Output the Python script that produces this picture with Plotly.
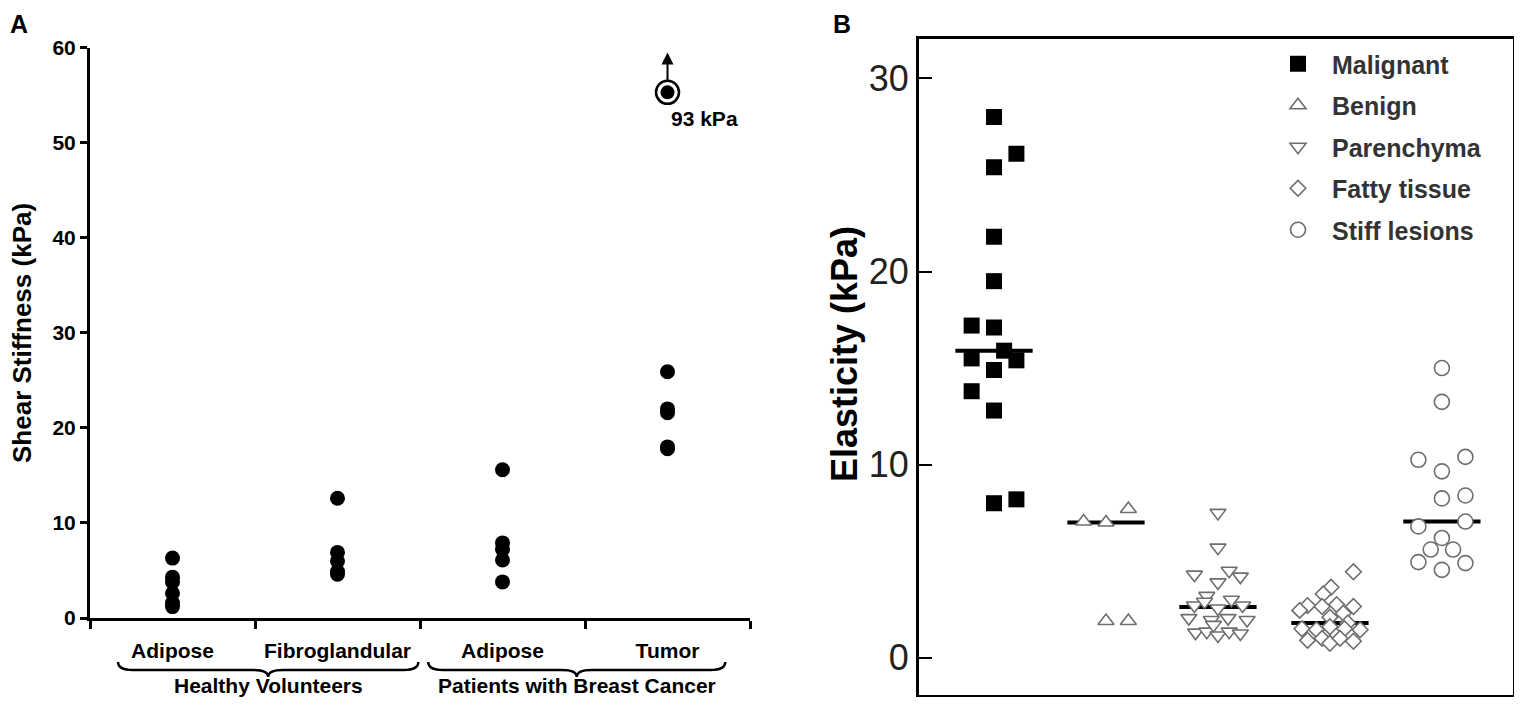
import numpy as np
import plotly.graph_objects as go

# target picture is 1522x726; page has an 8px body margin, keep figure short
# enough that the page never scrolls
PAGE_W, PAGE_H = 1522, 726
OFF = 8
FW, FH = PAGE_W - 2 * OFF, 689

# ---- panel A: shear stiffness (kPa) ----
a_categories = ["Adipose", "Fibroglandular", "Adipose", "Tumor"]
a_groups = ["Healthy Volunteers", "Patients with Breast Cancer"]
healthy_adipose = [6.3, 4.3, 3.8, 2.6, 1.6, 1.2]
healthy_fibro = [12.6, 6.9, 6.0, 4.9, 4.6]
patient_adipose = [15.6, 7.9, 7.2, 6.1, 3.8]
patient_tumor = [25.9, 22.0, 21.6, 18.0, 17.8]
tumor_outlier_kpa = 93
tumor_outlier_shown = 55.3   # drawn at top of the axis, off-scale value
a_yticks = [0, 10, 20, 30, 40, 50, 60]

# ---- panel B: elasticity (kPa) ----
b_names = ["Malignant", "Benign", "Parenchyma", "Fatty tissue", "Stiff lesions"]
malignant_x = [1.0, 1.2, 1.0, 1.0, 1.0, 0.8, 1.0, 0.8, 1.09, 1.2, 1.0, 0.8, 1.0, 1.0, 1.2]
malignant_y = [28.0, 26.1, 25.4, 21.8, 19.5, 17.2, 17.1, 15.5, 15.9, 15.4, 14.9, 13.8, 12.8, 8.0, 8.2]
benign_x = [1.8, 2.0, 2.2, 2.0, 2.2]
benign_y = [7.05, 7.0, 7.7, 1.9, 1.9]
parenchyma_x = [3.0, 3.0, 2.79, 3.1, 3.2, 3.0, 2.9, 2.79, 3.12, 3.22, 3.0, 2.88,
                2.74, 2.94, 3.09, 3.26, 2.8, 2.9, 3.0, 3.1, 3.2, 2.96]
parenchyma_y = [7.5, 5.7, 4.3, 4.5, 4.2, 3.9, 3.2, 2.7, 3.0, 2.7, 2.55, 2.9,
                2.05, 1.95, 2.05, 1.95, 1.3, 1.35, 1.15, 1.35, 1.25, 1.7]
fatty_x = [4.21, 4.01, 3.94, 3.8, 3.93, 4.06, 4.21, 3.73, 4.0, 4.12, 4.16,
           3.75, 3.88, 4.0, 4.13, 4.27, 3.8, 3.93, 4.0, 4.09, 4.21]
fatty_y = [4.45, 3.65, 3.3, 2.7, 2.65, 2.75, 2.65, 2.45, 2.1, 2.3, 1.8,
           1.5, 1.45, 1.6, 1.5, 1.45, 0.9, 1.0, 0.75, 1.0, 0.85]
stiff_x = [5.0, 5.0, 4.79, 5.21, 5.0, 5.0, 5.21, 4.79, 5.21, 5.0, 4.9, 5.1, 4.79, 5.21, 5.0]
stiff_y = [15.0, 13.25, 10.25, 10.4, 9.65, 8.25, 8.4, 6.8, 7.05, 6.2, 5.6, 5.6, 4.95, 4.9, 4.55]
b_yticks = [0, 10, 20, 30]

FONT = "Liberation Sans, Arial, sans-serif"
GREY = "#6e6e6e"


# picture pixel -> paper fraction
def px_x(p):
    return (p - OFF) / FW


def px_y(p):
    return 1 - (p - OFF) / FH


fig = go.Figure()

# Panel A --------------------------------------
for i, vals in enumerate([healthy_adipose, healthy_fibro, patient_adipose, patient_tumor]):
    fig.add_trace(go.Scatter(x=[i + 1] * len(vals), y=vals, mode="markers",
                             marker=dict(color="black", size=15),
                             showlegend=False, xaxis="x", yaxis="y"))

fig.add_trace(go.Scatter(x=[4], y=[tumor_outlier_shown], mode="markers",
                         marker=dict(symbol="circle-open", size=23, color="black",
                                     line=dict(width=2.5)),
                         showlegend=False, xaxis="x", yaxis="y"))
fig.add_trace(go.Scatter(x=[4], y=[tumor_outlier_shown], mode="markers",
                         marker=dict(color="black", size=14),
                         showlegend=False, xaxis="x", yaxis="y"))

# Panel B --------------------------------------
b_data = [(malignant_x, malignant_y), (benign_x, benign_y), (parenchyma_x, parenchyma_y),
          (fatty_x, fatty_y), (stiff_x, stiff_y)]
b_symbols = ["square", "triangle-up", "triangle-down", "diamond", "circle"]
b_sizes = [16, 14, 14, 12, 15]

# median lines
for k, (xs, ys) in enumerate(b_data):
    med = float(np.median(ys))
    fig.add_trace(go.Scatter(x=[k + 1 - 0.345, k + 1 + 0.345], y=[med, med], mode="lines",
                             line=dict(color="black", width=4),
                             showlegend=False, xaxis="x2", yaxis="y2"))

for k, (xs, ys) in enumerate(b_data):
    if k == 0:
        mk = dict(symbol="square", size=b_sizes[k], color="black")
    else:
        mk = dict(symbol=b_symbols[k], size=b_sizes[k], color="white",
                  line=dict(color=GREY, width=1.6))
    fig.add_trace(go.Scatter(x=xs, y=ys, mode="markers", name=b_names[k], marker=mk,
                             legendgroup=b_names[k], xaxis="x2", yaxis="y2"))


# braces under panel A
def brace(x0, x1, xm):
    r = 0.09
    yt, ym, yb = px_y(662), px_y(670), px_y(677)
    return (f"M {x0},{yt} Q {x0},{ym} {x0 + r},{ym} L {xm - r},{ym} "
            f"Q {xm},{ym} {xm},{yb} Q {xm},{ym} {xm + r},{ym} L {x1 - r},{ym} "
            f"Q {x1},{ym} {x1},{yt}")


brace_spans = [(0.67, 2.49, 1.58), (2.55, 4.35, 3.45)]
shapes = []
for x0, x1, xm in brace_spans:
    shapes.append(dict(type="path", path=brace(x0, x1, xm), xref="x", yref="paper",
                       line=dict(color="black", width=2.5)))

bold = dict(family=FONT, size=21, color="black", weight="bold")
mid = dict(xanchor="center", yanchor="middle", showarrow=False)
annotations = [
    dict(text="A", x=px_x(19), y=px_y(24), xref="paper", yref="paper", **mid,
         font=dict(family=FONT, size=25, color="black", weight="bold")),
    dict(text="B", x=px_x(842), y=px_y(24), xref="paper", yref="paper", **mid,
         font=dict(family=FONT, size=25, color="black", weight="bold")),
    dict(text="Shear Stiffness (kPa)", x=px_x(22), y=px_y(333), xref="paper", yref="paper",
         textangle=-90, **mid,
         font=dict(family=FONT, size=26, color="black", weight="bold")),
    dict(text="Elasticity (kPa)", x=px_x(845), y=px_y(354), xref="paper", yref="paper",
         textangle=-90, **mid,
         font=dict(family=FONT, size=36, color="black", weight="bold")),
    dict(text=str(tumor_outlier_kpa) + " kPa", x=4, y=tumor_outlier_shown, xref="x", yref="y",
         xshift=37, yshift=-26, **mid, font=bold),
    dict(text="", x=4, y=59.5, ax=4, ay=56.4, xref="x", yref="y", axref="x", ayref="y",
         showarrow=True, arrowhead=2, arrowsize=1.2, arrowwidth=2, arrowcolor="black"),
]
for (x0, x1, xm), g in zip(brace_spans, a_groups):
    annotations.append(dict(text=g, x=xm, y=px_y(685), xref="x", yref="paper",
                            **mid, font=bold))

# panel B y scale: 0 at 657.7 px, 10 kPa per 193.1 px
b_zero_px, b_px_per_unit = 657.7, 19.31
b_top_px, b_bottom_px = 39.3, 694.5

fig.update_layout(
    template="none",
    width=FW, height=FH,
    margin=dict(l=0, r=0, t=0, b=0),
    paper_bgcolor="white", plot_bgcolor="white",
    font=dict(family=FONT, color="black"),
    xaxis=dict(domain=[px_x(90), px_x(750)], range=[0.5, 4.5], showline=True,
               linewidth=3, linecolor="black", tickvals=[1, 2, 3, 4], ticktext=a_categories,
               ticks="", tickfont=bold, ticklabelstandoff=12, showgrid=False, zeroline=False,
               minor=dict(tickvals=[0.5, 1.5, 2.5, 3.5, 4.5], ticks="outside", ticklen=8,
                          tickwidth=3, tickcolor="black", showgrid=False)),
    yaxis=dict(domain=[px_y(618), px_y(47.7)], range=[0, 60], showline=True, linewidth=3,
               linecolor="black", ticks="outside", ticklen=7, tickwidth=3, tickcolor="black",
               tickvals=a_yticks, tickfont=bold, showgrid=False, zeroline=False),
    xaxis2=dict(domain=[px_x(919), px_x(1513)], range=[0.33, 5.635], anchor="y2",
                showline=True, mirror=True, linewidth=3, linecolor="black",
                showticklabels=False, ticks="", showgrid=False, zeroline=False),
    yaxis2=dict(domain=[px_y(b_bottom_px), px_y(b_top_px)],
                range=[(b_zero_px - b_bottom_px) / b_px_per_unit,
                       (b_zero_px - b_top_px) / b_px_per_unit],
                anchor="x2", showline=True, mirror=True, linewidth=3, linecolor="black",
                ticks="inside", ticklen=13, tickwidth=2, tickcolor="black",
                tickvals=b_yticks, tickfont=dict(family=FONT, size=36, color="#222"),
                showgrid=False, zeroline=False),
    legend=dict(x=px_x(1264), y=px_y(41), xanchor="left", yanchor="top",
                font=dict(family=FONT, size=25, color="#333", weight="bold"),
                itemwidth=58, tracegroupgap=6, bgcolor="rgba(0,0,0,0)"),
    shapes=shapes,
    annotations=annotations,
)

fig.write_html("out.html")
